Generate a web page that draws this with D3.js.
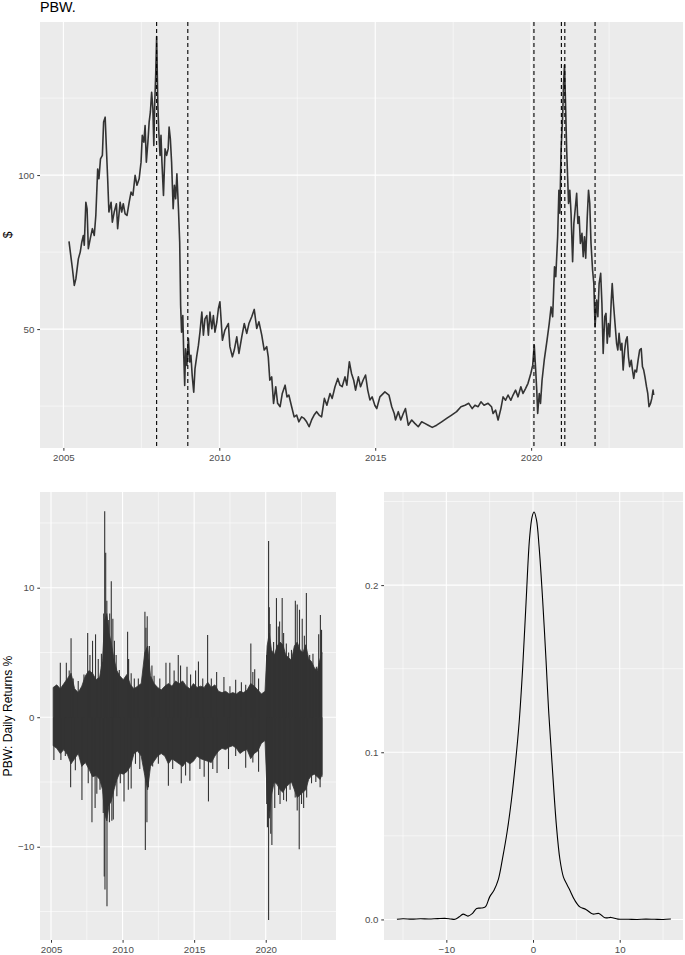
<!DOCTYPE html>
<html><head><meta charset="utf-8">
<script src="https://cdn.jsdelivr.net/npm/d3@7"></script>
<style>
body{margin:0;background:#fff}
text{font-family:"Liberation Sans",Arial,Helvetica,sans-serif}
</style>
</head><body>
<svg id="c" width="685" height="955" xmlns="http://www.w3.org/2000/svg"></svg>
<script>
// ---------------- DATA ----------------
const priceDates = [2005.18,2005.25,2005.29,2005.35,2005.40,2005.48,2005.54,2005.59,2005.64,2005.67,2005.72,2005.76,2005.80,2005.86,2005.93,2005.99,
2006.04,2006.10,2006.14,2006.19,2006.25,2006.29,2006.34,2006.38,2006.42,2006.46,2006.53,2006.57,2006.63,2006.70,2006.74,2006.82,2006.87,2006.92,2006.98,
2007.04,2007.11,2007.17,2007.23,2007.30,2007.36,2007.43,2007.49,2007.53,2007.58,2007.62,2007.66,2007.71,2007.75,2007.79,2007.83,2007.87,2007.90,2007.93,2007.96,2007.99,
2008.03,2008.06,2008.10,2008.13,2008.16,2008.21,2008.26,2008.31,2008.36,2008.39,2008.43,2008.47,2008.52,2008.56,2008.60,2008.64,2008.69,2008.73,2008.76,2008.79,2008.83,2008.86,2008.89,2008.92,2008.96,
2009.01,2009.05,2009.09,2009.13,2009.18,2009.22,2009.28,2009.33,2009.38,2009.44,2009.49,2009.54,2009.60,2009.65,2009.70,2009.76,2009.81,2009.86,2009.92,2009.97,
2010.02,2010.10,2010.18,2010.29,2010.34,2010.42,2010.48,2010.56,2010.63,2010.72,2010.80,2010.88,2010.95,
2011.04,2011.12,2011.20,2011.27,2011.36,2011.44,2011.52,2011.57,2011.62,2011.68,2011.74,2011.81,2011.87,2011.95,
2012.02,2012.11,2012.17,2012.23,2012.32,2012.40,2012.48,2012.55,2012.64,2012.72,2012.80,2012.88,2012.96,
2013.04,2013.12,2013.20,2013.28,2013.37,2013.45,2013.55,2013.62,2013.71,2013.80,2013.87,2013.94,
2014.03,2014.09,2014.17,2014.24,2014.31,2014.37,2014.46,2014.53,2014.61,2014.69,2014.76,2014.83,2014.90,2014.99,
2015.05,2015.15,2015.31,2015.44,2015.53,2015.61,2015.65,2015.74,2015.82,2015.90,2015.97,
2016.06,2016.17,2016.27,2016.38,2016.49,2016.59,2016.70,2016.83,2016.97,
2017.13,2017.29,2017.45,2017.61,2017.75,2017.88,
2018.00,2018.11,2018.20,2018.30,2018.39,2018.49,2018.62,2018.73,2018.78,2018.86,2018.94,
2019.03,2019.10,2019.18,2019.26,2019.35,2019.42,2019.50,2019.58,2019.67,2019.74,2019.82,2019.90,2019.99,
2020.05,2020.10,2020.14,2020.18,2020.21,2020.26,2020.30,2020.35,2020.42,2020.51,2020.58,2020.64,2020.69,2020.75,2020.79,2020.85,2020.89,2020.92,2020.96,
2021.01,2021.04,2021.07,2021.10,2021.14,2021.17,2021.20,2021.24,2021.28,2021.33,2021.37,2021.41,2021.46,2021.50,2021.54,2021.58,2021.63,2021.67,2021.71,2021.75,2021.80,2021.84,2021.88,2021.92,2021.97,
2022.01,2022.05,2022.10,2022.14,2022.18,2022.23,2022.27,2022.31,2022.36,2022.40,2022.44,2022.48,2022.52,2022.57,2022.60,2022.64,2022.69,2022.74,2022.78,2022.82,2022.87,2022.91,2022.95,
2023.00,2023.04,2023.08,2023.12,2023.16,2023.21,2023.25,2023.29,2023.33,2023.38,2023.43,2023.48,2023.53,2023.57,2023.61,2023.65,2023.70,2023.74,2023.78,2023.83,2023.87,2023.91,2023.93];

const priceValues = [78.5,72.8,69.6,64.2,66.3,72.8,75,78.2,80.4,77.2,91.2,89,76.1,79.3,82.6,80.4,
86.9,102,98.8,105.3,106.4,117.2,118.8,108.5,98.8,88,91.2,84.7,88,90.7,82.6,91.2,88,90.7,87.4,
86.9,91.2,94.5,93.4,99.9,96.7,98.8,104.2,112.9,110.7,116.1,104.2,110.7,117.2,120.5,126.9,121.5,109.6,123.7,132.4,145.0,
122.6,114,106.4,112.9,104.2,93.4,108.5,106.4,108.5,115.6,111.8,104.2,89.1,96.7,92.3,100.4,89.1,78.2,57.7,49,54.4,41.5,31.7,43.6,38.2,
46.9,39.3,41.5,35,29.5,37.1,41.5,44.7,49,55.5,48,53.3,54.4,48,55.5,50.1,54.4,49,52.3,56.6,
58.9,46.4,49.7,51.8,44.3,41,43.2,47.5,42.1,47.5,51.8,48.6,51.8,
54,56.4,50.2,52.4,48.1,43.2,44.3,41,33.4,34.5,25.9,31.3,25.9,24.8,
29.1,31.8,28,28.6,24.8,21.5,22.1,19.9,21.5,21,19.9,18.3,20.5,
22.1,23.2,22.1,21.5,27.5,25.3,29.1,27.5,31.3,34,31.8,31.3,
34.5,31.8,39.4,35.6,33.4,30.2,34.5,31.3,33.4,35.1,30.2,27,28,25.2,
24.2,28,29.6,28.6,24.8,22.6,20.5,23.2,20.5,22.6,24.2,
18.8,20.5,19.4,18.3,19.9,19.4,18.8,18.1,18.8,
19.9,21,22.1,23.2,24.8,25.3,
25.9,24.2,25.3,24.8,26.4,25.3,25.9,24.8,22.6,23.7,20.5,
24.2,28,26.9,28.6,26.9,28.6,30.2,28,31.3,29.1,30.7,32.4,35.6,
38.3,44.8,37.8,30.2,22.6,29.1,25.9,33.4,39.9,46.4,51.8,57.2,54,70.2,67,80,95.1,87.6,108.1,
118.9,129.8,135.7,124.4,108.1,99.4,90.8,95.1,87.6,71.9,84.3,88.6,94.1,84.3,86.5,77.8,81.1,73.5,80,73,86.5,95.1,90.8,77.8,69.2,
64.8,50.7,59.4,54,64.8,68.1,58.3,42.1,54,55.1,45.4,51.8,47.5,59.4,64.8,58.3,51.8,45.4,43.2,48.6,43.2,45.4,36.7,
43.2,46.4,47.5,41,37.8,39.9,36.7,34,36.7,36.1,39.9,43.2,43.7,37.8,36.7,34.5,31.3,29.1,24.8,25.9,27.5,30.2,28.6];

const eventDates = [2007.99, 2008.99, 2020.09, 2020.97, 2021.08, 2022.05];

// daily-return band (typical high / low edges of the dense mass)
const retDates = [2005.15,2005.4,2005.65,2005.9,2006.15,2006.4,2006.65,2006.9,2007.15,2007.4,2007.65,2007.9,2008.15,2008.4,2008.6,2008.75,2008.9,2009.05,2009.2,2009.4,2009.6,2009.8,
2010.05,2010.3,2010.55,2010.8,2011.05,2011.3,2011.55,2011.75,2011.95,2012.2,2012.45,2012.7,2012.95,2013.2,2013.45,2013.7,2013.95,2014.2,2014.45,2014.7,2014.95,
2015.2,2015.45,2015.7,2015.95,2016.2,2016.45,2016.7,2016.95,2017.2,2017.45,2017.7,2017.95,2018.2,2018.45,2018.7,2018.95,2019.2,2019.45,2019.7,2019.95,
2020.1,2020.25,2020.4,2020.6,2020.8,2021.0,2021.2,2021.4,2021.6,2021.8,2022.0,2022.2,2022.4,2022.6,2022.8,2023.0,2023.2,2023.4,2023.6,2023.8,2023.93];
const retHigh = [2.3,2.5,2.2,2.6,3.0,3.4,2.2,1.9,2.4,3.2,3.6,3.4,2.9,3.1,4.5,7.5,8.0,6.5,5.8,4.5,3.6,3.2,
2.9,3.3,2.5,2.2,2.4,2.6,5.0,5.5,3.2,2.6,2.3,2.1,2.4,2.6,2.4,2.8,2.6,2.8,2.4,2.2,2.6,
2.3,2.4,2.3,2.7,2.3,2.5,2.0,1.9,2.0,1.8,1.9,1.8,2.0,1.9,2.1,2.6,2.4,2.1,1.8,2.0,
5.5,6.5,5.2,4.8,5.5,5.8,5.6,4.8,4.6,4.4,5.5,5.8,5.2,5.0,5.6,4.5,4.3,3.8,3.6,4.5,5.0];
const retLow = [-2.2,-2.4,-2.8,-2.5,-2.9,-3.6,-3.2,-2.8,-3.8,-3.5,-4.0,-4.6,-4.5,-4.8,-5.6,-7.5,-8.0,-6.8,-6.5,-5.6,-4.8,-4.3,
-4.4,-4.2,-3.8,-2.8,-2.6,-3.0,-4.5,-5.6,-3.8,-3.4,-3.0,-2.8,-3.0,-3.6,-3.2,-3.4,-3.6,-3.8,-3.4,-3.6,-3.4,
-3.0,-3.2,-3.3,-3.4,-3.5,-3.0,-2.6,-2.4,-2.5,-2.3,-2.2,-2.4,-2.8,-2.6,-2.5,-3.2,-2.8,-2.6,-2.0,-1.8,
-6.0,-7.8,-6.0,-5.0,-5.2,-5.6,-5.8,-5.4,-5.2,-5.0,-5.6,-6.2,-6.0,-5.8,-5.6,-4.8,-4.5,-4.4,-4.6,-4.8,-4.4];

// individual large daily returns (spikes)
const spikeDates = [2005.65,2006.07,2006.27,2006.4,2006.55,2006.9,2007.3,2007.56,2007.72,2007.9,2008.11,2008.3,2008.52,2008.68,2008.75,2008.82,2008.9,2009.0,2009.1,2009.21,2009.32,2009.43,2009.55,2009.77,
2010.35,2010.42,2010.6,2010.82,2011.1,2011.56,2011.63,2011.72,2011.87,2012.05,2012.2,2012.6,2013.03,2013.3,2013.6,2013.89,2014.05,2014.5,2014.75,2015.1,2015.3,2015.6,2015.94,2016.2,2016.57,
2017.08,2017.5,2017.9,2018.3,2018.6,2018.96,2019.1,2019.23,2019.5,2020.06,2020.2,2020.25,2020.3,2020.55,2020.75,2020.88,2020.97,2021.15,2021.25,2021.44,2021.6,2021.8,
2022.07,2022.2,2022.36,2022.55,2022.7,2022.84,2023.07,2023.3,2023.54,2023.7,2023.82,2023.9,
2005.2,2005.69,2006.0,2006.37,2006.7,2007.16,2007.6,2007.86,2008.08,2008.2,2008.42,2008.65,2008.72,2008.77,2008.91,2009.08,2009.25,2009.35,2009.6,2009.84,
2010.1,2010.4,2010.6,2010.9,2011.2,2011.59,2011.7,2011.8,2012.1,2012.5,2013.2,2013.5,2014.1,2014.4,2014.7,2015.4,2015.7,2016.0,2016.3,2016.6,
2017.4,2017.9,2018.6,2019.1,2019.5,2020.07,2020.12,2020.2,2020.35,2020.43,2020.63,2020.9,2021.0,2021.25,2021.45,2021.7,
2022.06,2022.2,2022.34,2022.5,2022.65,2022.86,2023.2,2023.5,2023.8,2023.93];
const spikeValues = [4.2,4.2,3.6,6.1,3.0,2.8,3.3,6.5,4.8,5.9,6.4,4.5,4.9,8.0,15.9,12.7,9.0,7.5,8.0,10.5,7.6,5.9,4.8,3.65,
6.6,4.5,3.4,3.0,3.0,8.15,6.9,7.8,5.5,4.0,3.2,3.0,4.2,4.2,3.6,4.8,4.0,3.9,3.3,3.6,4.3,3.0,6.35,3.0,3.5,
3.1,2.4,2.9,2.7,2.5,5.7,3.5,3.7,3.0,4.8,13.6,8.5,7.2,5.8,9.2,7.0,7.4,9.2,6.5,5.7,5.0,5.2,
9.0,8.7,8.3,7.6,6.3,9.6,4.8,4.9,3.9,6.4,7.9,6.75,
-3.3,-3.3,-3.0,-5.4,-4.1,-6.4,-5.1,-8.1,-7.0,-5.9,-5.6,-7.4,-12.3,-13.3,-14.6,-8.1,-8.0,-7.9,-6.1,-5.1,
-6.5,-5.6,-5.5,-3.6,-4.0,-10.25,-8.1,-5.4,-3.8,-3.6,-5.3,-4.0,-5.1,-4.5,-4.9,-4.0,-4.6,-6.5,-4.0,-4.3,
-4.0,-3.0,-3.9,-3.5,-4.2,-6.7,-8.5,-15.65,-9.0,-9.86,-7.0,-6.0,-6.7,-6.4,-6.5,-5.6,
-6.2,-7.2,-10.2,-6.7,-7.0,-6.2,-5.1,-5.0,-5.4,-4.6];

// density of daily returns
const densX = [-15.7,-15,-14,-13,-12,-11,-10,-9.5,-9,-8.5,-8.07,-7.5,-7,-6.5,-6,-5.5,-5,-4.5,-4,-3.5,-3,-2.5,-2,-1.6,-1.2,-0.8,-0.4,-0.1,0.12,0.4,0.7,1.1,1.5,1.8,2.2,2.7,3.1,3.5,3.9,4.2,4.8,5.4,6.1,6.9,7.6,8.3,9.0,9.8,11,12,13,14,15,15.9];
const densY = [0.0001,0.0004,0.0002,0.0004,0.0003,0.0005,0.0006,0.0003,0.0001,0.0016,0.0032,0.002,0.0035,0.0066,0.0068,0.0075,0.0135,0.0175,0.024,0.037,0.052,0.071,0.095,0.118,0.150,0.190,0.228,0.241,0.2437,0.239,0.223,0.192,0.155,0.125,0.093,0.056,0.036,0.0255,0.021,0.018,0.0116,0.0075,0.006,0.0032,0.0036,0.001,0.0012,0.0002,0.0001,0.0,0.0002,0.0001,0.0,0.0003];

// ticks
const yearTicks = [2005, 2010, 2015, 2020];
const yearMinor = [2007.5, 2012.5, 2017.5, 2022.5];
const priceTicks = [50, 100];
const priceMinor = [25, 75, 125];
const retTicks = [-10, 0, 10];
const retMinor = [-15, -5, 5, 15];
const densXTicks = [-10, 0, 10];
const densXMinor = [-15, -5, 5, 15];
const densYTicks = [0.0, 0.1, 0.2];
const densYLabels = ["0.0", "0.1", "0.2"];
const densYMinor = [0.05, 0.15, 0.25];

// ---------------- DRAW ----------------
const svg = d3.select("#c");
const FONT = '"Liberation Sans",Arial,sans-serif';
const fmt = v => (v < 0 ? "\u2212" + Math.abs(v) : String(v));

function panel(box, xs, ys, opt) {
  const g = svg.append("g");
  g.append("rect").attr("x", box.x0).attr("y", box.y0)
    .attr("width", box.x1 - box.x0).attr("height", box.y1 - box.y0).attr("fill", "#EBEBEB");
  const clipId = "clip" + Math.round(box.x0) + "_" + Math.round(box.y0);
  svg.append("clipPath").attr("id", clipId).append("rect")
    .attr("x", box.x0).attr("y", box.y0).attr("width", box.x1 - box.x0).attr("height", box.y1 - box.y0);
  opt.xMinor.forEach(v => g.append("line").attr("x1", xs(v)).attr("x2", xs(v)).attr("y1", box.y0).attr("y2", box.y1)
    .attr("stroke", "#fff").attr("stroke-width", 0.55));
  opt.yMinor.forEach(v => g.append("line").attr("y1", ys(v)).attr("y2", ys(v)).attr("x1", box.x0).attr("x2", box.x1)
    .attr("stroke", "#fff").attr("stroke-width", 0.55));
  opt.xMajor.forEach(v => g.append("line").attr("x1", xs(v)).attr("x2", xs(v)).attr("y1", box.y0).attr("y2", box.y1)
    .attr("stroke", "#fff").attr("stroke-width", 1.1));
  opt.yMajor.forEach(v => g.append("line").attr("y1", ys(v)).attr("y2", ys(v)).attr("x1", box.x0).attr("x2", box.x1)
    .attr("stroke", "#fff").attr("stroke-width", 1.1));
  const xa = d3.axisBottom(xs).tickValues(opt.xMajor).tickSize(2.75).tickPadding(3.3)
    .tickFormat((d, i) => opt.xLabels ? opt.xLabels[i] : fmt(d));
  const gx = svg.append("g").attr("transform", `translate(0,${box.y1})`).call(xa);
  gx.select(".domain").remove();
  gx.selectAll("line").attr("stroke", "#333").attr("stroke-width", 1);
  gx.selectAll("text").attr("fill", "#4D4D4D").attr("font-size", "9.7px").attr("font-family", FONT);
  const ya = d3.axisLeft(ys).tickValues(opt.yMajor).tickSize(2.75).tickPadding(2.9)
    .tickFormat((d, i) => opt.yLabels ? opt.yLabels[i] : fmt(d));
  const gy = svg.append("g").attr("transform", `translate(${box.x0},0)`).call(ya);
  gy.select(".domain").remove();
  gy.selectAll("line").attr("stroke", "#333").attr("stroke-width", 1);
  gy.selectAll("text").attr("fill", "#4D4D4D").attr("font-size", "9.7px").attr("font-family", FONT);
  return svg.append("g").attr("clip-path", `url(#${clipId})`);
}

// ---- Top: price
const topBox = {x0: 40, x1: 683, y0: 22, y1: 448};
const xTop = d3.scaleLinear().domain([2004.25, 2024.87]).range([topBox.x0, topBox.x1]);
const yTop = d3.scaleLinear().domain([11.4, 149.7]).range([topBox.y1, topBox.y0]);
const gTop = panel(topBox, xTop, yTop, {xMajor: yearTicks, xMinor: yearMinor, yMajor: priceTicks, yMinor: priceMinor});
const priceData = d3.zip(priceDates, priceValues);
gTop.append("path").datum(priceData)
  .attr("d", d3.line().x(d => xTop(d[0])).y(d => yTop(d[1])))
  .attr("fill", "none").attr("stroke", "#333333").attr("stroke-width", 1.6).attr("stroke-linejoin", "round");
eventDates.forEach(v => gTop.append("line").attr("x1", xTop(v)).attr("x2", xTop(v))
  .attr("y1", topBox.y0).attr("y2", topBox.y1)
  .attr("stroke", "#000").attr("stroke-width", 1.1).attr("stroke-dasharray", "4,3"));

svg.append("text").attr("x", 40).attr("y", 11.8).attr("font-size", "14.3px").attr("fill", "#000").text("PBW.");
svg.append("text").attr("transform", `translate(11.5,${(topBox.y0 + topBox.y1) / 2}) rotate(-90)`)
  .attr("text-anchor", "middle").attr("font-size", "12.1px").attr("fill", "#000").text("$");

// ---- Bottom-left: daily returns
const blBox = {x0: 40, x1: 336, y0: 492, y1: 940};
const xBl = d3.scaleLinear().domain([2004.23, 2024.91]).range([blBox.x0, blBox.x1]);
const yBl = d3.scaleLinear().domain([-17.2, 17.39]).range([blBox.y1, blBox.y0]);
const gBl = panel(blBox, xBl, yBl, {xMajor: yearTicks, xMinor: yearMinor, yMajor: retTicks, yMinor: retMinor});
const band = d3.range(Math.min(retDates.length, retHigh.length, retLow.length)).map(i => [retDates[i], retHigh[i], retLow[i]]);
gBl.append("path").datum(band)
  .attr("d", d3.area().x(d => xBl(d[0])).y0(d => yBl(d[2])).y1(d => yBl(d[1])))
  .attr("fill", "#333333").attr("stroke", "#333333").attr("stroke-width", 0.8);
d3.zip(spikeDates, spikeValues).forEach(d => gBl.append("line")
  .attr("x1", xBl(d[0])).attr("x2", xBl(d[0])).attr("y1", yBl(0)).attr("y2", yBl(d[1]))
  .attr("stroke", "#333333").attr("stroke-width", 1.1));
svg.append("text").attr("transform", `translate(11.5,${(blBox.y0 + blBox.y1) / 2}) rotate(-90)`)
  .attr("text-anchor", "middle").attr("font-size", "12.1px").attr("fill", "#000").text("PBW: Daily Returns %");

// ---- Bottom-right: density
const brBox = {x0: 384, x1: 683, y0: 492, y1: 940};
const xBr = d3.scaleLinear().domain([-17.19, 17.3]).range([brBox.x0, brBox.x1]);
const yBr = d3.scaleLinear().domain([-0.0123, 0.2557]).range([brBox.y1, brBox.y0]);
const gBr = panel(brBox, xBr, yBr, {xMajor: densXTicks, xMinor: densXMinor, yMajor: densYTicks, yMinor: densYMinor, yLabels: densYLabels});
gBr.append("path").datum(d3.zip(densX, densY))
  .attr("d", d3.line().x(d => xBr(d[0])).y(d => yBr(d[1])).curve(d3.curveCatmullRom.alpha(0.5)))
  .attr("fill", "none").attr("stroke", "#000").attr("stroke-width", 1.1);
</script>
</body></html>
